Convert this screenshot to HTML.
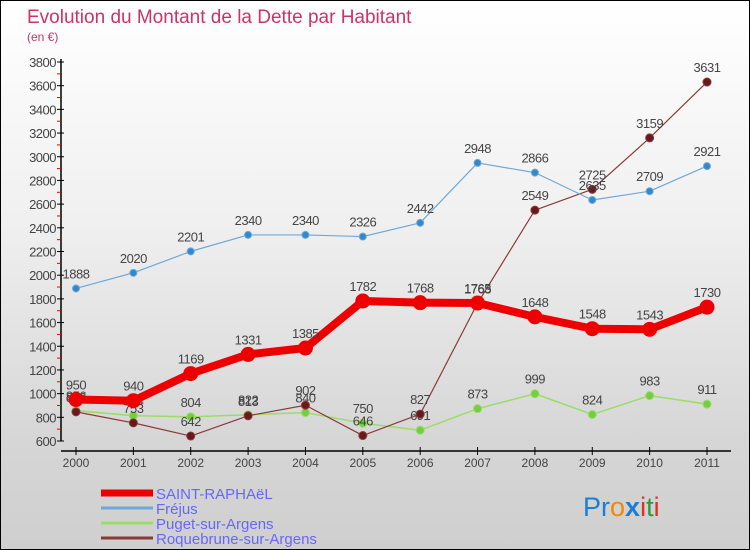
<!DOCTYPE html>
<html><head><meta charset="utf-8"><style>
body{margin:0;}
#wrap{width:748px;height:548px;border:1px solid #000;position:relative;background:linear-gradient(#ffffff,#f0f0f0 40%,#d6d6d6 80%,#cfcfcf);font-family:"Liberation Sans",sans-serif;overflow:hidden}
svg{position:absolute;left:0;top:0}
</style></head><body>
<div id="wrap">
<svg id="svg" width="748" height="548">
<text x="26" y="22" font-size="19" fill="#cc3366">Evolution du Montant de la Dette par Habitant</text>
<text x="26" y="40" font-size="12" fill="#cc3366">(en €)</text>
<g id="axes"></g><g id="series"></g><g id="legend"></g>
<text x="582" y="515" font-size="27" fill="#1a7fd4">P<tspan fill="#1a7fd4">r</tspan><tspan fill="#f08a00">o</tspan><tspan fill="#1a7fd4" font-weight="bold">x</tspan><tspan fill="#e03020">i</tspan><tspan fill="#2a9a3a">t</tspan><tspan fill="#e03020">i</tspan></text>
</svg></div>
<script>
const years=[2000,2001,2002,2003,2004,2005,2006,2007,2008,2009,2010,2011];
const yTicks=[600,800,1000,1200,1400,1600,1800,2000,2200,2400,2600,2800,3000,3200,3400,3600,3800];
const stRaphael=[950,940,1169,1331,1385,1782,1768,1765,1648,1548,1543,1730];
const frejus=[1888,2020,2201,2340,2340,2326,2442,2948,2866,2635,2709,2921];
const puget=[856,814,804,822,840,750,691,873,999,824,983,911];
const roquebrune=[846,753,642,813,902,646,827,1763,2549,2725,3159,3631];
const NS="http://www.w3.org/2000/svg";
function X(i){return 75+i*(706-75)/11;}
function Y(v){return 440-(v-600)*(440-61)/3200;}
function mk(t,a,p){const e=document.createElementNS(NS,t);for(const k in a)e.setAttribute(k,a[k]);p.appendChild(e);return e;}
const axes=document.getElementById('axes'),ser=document.getElementById('series'),leg=document.getElementById('legend');
let l=mk('line',{x1:60,y1:58,x2:60,y2:440,stroke:'#000','stroke-width':1.5},axes);

l=mk('line',{x1:60,y1:450,x2:730,y2:450,stroke:'#000','stroke-width':1.5},axes);

yTicks.forEach((v,i)=>{const y=Y(v);mk('line',{x1:56,y1:y,x2:63,y2:y,stroke:'#000'},axes);
 if(i<yTicks.length-1)mk('line',{x1:56,y1:Y(v+100),x2:60,y2:Y(v+100),stroke:'#e00'},axes);
 const t=mk('text',{x:55,y:y+5,'font-size':13,fill:'#444','text-anchor':'end','letter-spacing':'-0.5'},axes);t.textContent=v;
 });
years.forEach((yr,i)=>{mk('line',{x1:X(i),y1:446,x2:X(i),y2:454,stroke:'#000'},axes);
 const t=mk('text',{x:X(i),y:466,'font-size':12,fill:'#444','text-anchor':'middle'},axes);t.textContent=yr;
 });
function draw(vals,col,dot,w,r,name){const g=mk('g',{},ser);
 mk('polyline',{points:vals.map((v,i)=>X(i)+','+Y(v)).join(' '),fill:'none',stroke:col,'stroke-width':w,'stroke-linejoin':'round'},g);
 vals.forEach((v,i)=>{const c=mk('circle',{cx:X(i),cy:Y(v),r:r,fill:dot,stroke:col},g);
  const t=mk('text',{x:X(i),y:Y(v)-10,'font-size':13,fill:'#444','text-anchor':'middle','letter-spacing':'-0.5'},g);t.textContent=v;
  });}
draw(puget,'#99dd66','#77cc44',1.5,4,'puget');
draw(roquebrune,'#8b3a3a','#661a1a',1.2,4,'roquebrune');
draw(frejus,'#6fa8d6','#3388cc',1.2,3.5,'frejus');
draw(stRaphael,'#ee0000','#ee0000',8,7,'saint-raphael');
const legNames=['SAINT-RAPHAëL','Fréjus','Puget-sur-Argens','Roquebrune-sur-Argens'];
const legCols=['#ee0000','#6fa8d6','#99dd66','#8b3a3a'],legW=[7,3,3,3];
legNames.forEach((n,i)=>{const y=492+i*15;const g=mk('g',{},leg);
 mk('line',{x1:100,y1:y,x2:152,y2:y,stroke:legCols[i],'stroke-width':legW[i]},g);
 const t=mk('text',{x:155,y:y+6,'font-size':15,fill:'#6666ff'},g);t.textContent=n;});
</script></body></html>
